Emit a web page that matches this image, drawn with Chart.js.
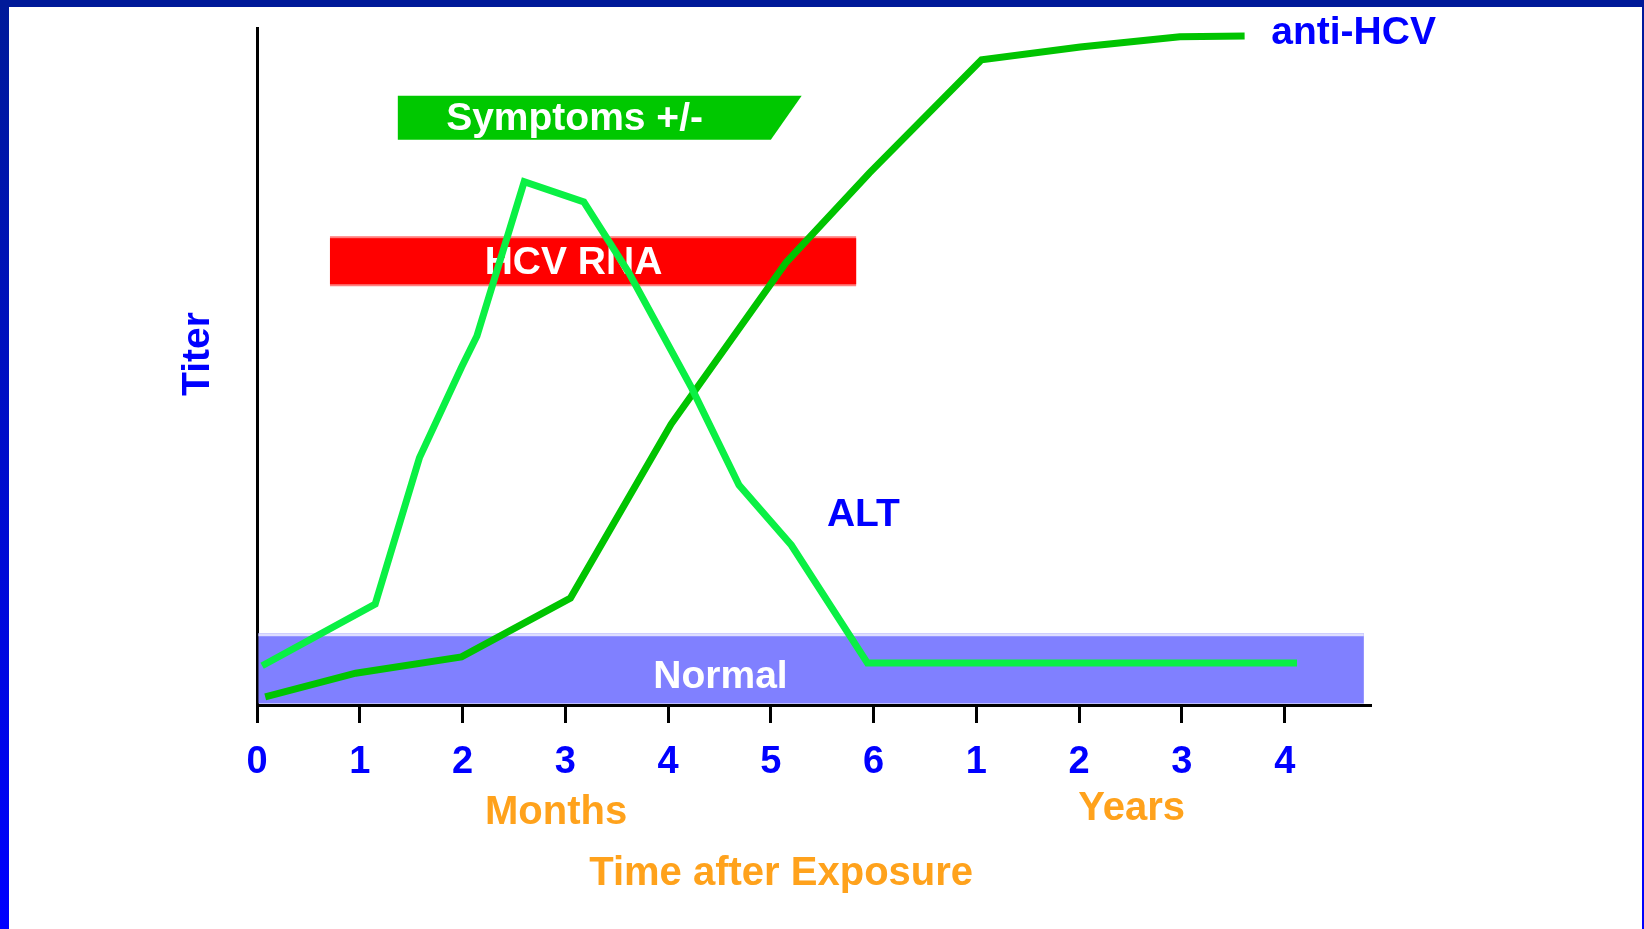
<!DOCTYPE html>
<html>
<head>
<meta charset="utf-8">
<title>HCV infection course</title>
<script src="https://cdn.jsdelivr.net/npm/chart.js@4.4.1/dist/chart.umd.min.js"></script>
<style>
  html, body { margin: 0; padding: 0; background: #fff; overflow: hidden; }
  #c { display: block; }
</style>
</head>
<body>
<canvas id="c" width="1644" height="929"></canvas>
<script>
// Time axis: months 0–6, then years 1–4 (one tick step each)
const tickValues = [0, 1, 2, 3, 4, 5, 6, 7, 8, 9, 10];
const tickLabels = ['0', '1', '2', '3', '4', '5', '6', '1', '2', '3', '4'];

// ALT curve (time step, relative titer)
const altTime  = [0.05, 1.15, 1.58, 1.99, 2.14, 2.60, 3.18, 3.62, 4.23, 4.69, 5.20, 5.94, 10.12];
const altTiter = [5.8, 14.9, 36.5, 49.9, 54.5, 77.3, 74.3, 63.8, 46.8, 32.5, 23.6, 6.2, 6.2];

// anti-HCV curve
const antiTime  = [0.08, 0.96, 1.99, 3.05, 4.03, 5.15, 5.96, 7.05, 8.01, 8.98, 9.61];
const antiTiter = [1.2, 4.7, 7.1, 15.8, 41.5, 65.4, 78.6, 95.3, 97.2, 98.7, 98.8];

// Periods shown as bands: [start, end] in time steps, [low, high] in titer
const symptomsSpan = [1.37, 5.30];
const symptomsSpanLowEdge = 5.00;
const symptomsLevel = [83.5, 90.0];
const rnaSpan = [0.71, 5.83];
const rnaLevel = [62.0, 69.1];
const normalSpan = [0, 10.77];
const normalLevel = [0, 10.6];

const FONT = "'Liberation Sans', Arial, Helvetica, sans-serif";
const BLUE = '#0000ff';
const ORANGE = '#ffa21c';
const SIZE = 39;

function pts(xs, ys) { return xs.map((x, i) => ({ x: x, y: ys[i] })); }

// page frame: navy top bar, blue side bars
const framePlugin = {
  id: 'frame',
  beforeDraw(chart) {
    const ctx = chart.ctx, W = chart.width, H = chart.height;
    ctx.save();
    ctx.fillStyle = '#ffffff';
    ctx.fillRect(0, 0, W, H);
    const g = ctx.createLinearGradient(0, 0, 0, H);
    g.addColorStop(0, '#001a99');
    g.addColorStop(1, '#0000ff');
    ctx.fillStyle = g;
    ctx.fillRect(0, 0, 9, H);
    ctx.fillRect(W - 2, 0, 2, H);
    ctx.fillStyle = '#001a99';
    ctx.fillRect(0, 0, W, 7);
    ctx.restore();
  }
};

function label(ctx, text, x, y, color, size) {
  ctx.font = 'bold ' + size + 'px ' + FONT;
  ctx.fillStyle = color;
  ctx.textAlign = 'center';
  ctx.textBaseline = 'middle';
  ctx.fillText(text, x, y + 3);
}

// bands for Normal range, HCV RNA and symptoms, drawn beneath the curves
const bandsPlugin = {
  id: 'bands',
  beforeDatasetsDraw(chart) {
    const ctx = chart.ctx, xs = chart.scales.x, ys = chart.scales.y, a = chart.chartArea;
    ctx.save();
    // Normal range
    const nx0 = Math.max(xs.getPixelForValue(normalSpan[0]), a.left + 1.5);
    const nx1 = xs.getPixelForValue(normalSpan[1]);
    const ny0 = ys.getPixelForValue(normalLevel[1]);
    const ny1 = Math.min(ys.getPixelForValue(normalLevel[0]), a.bottom - 1.5);
    ctx.fillStyle = '#8080ff';
    ctx.fillRect(nx0, ny0, nx1 - nx0, ny1 - ny0);
    ctx.fillStyle = '#dedeff';
    ctx.fillRect(nx0, ny0, nx1 - nx0, 3);
    label(ctx, 'Normal', xs.getPixelForValue(4.51), ys.getPixelForValue(4.6), '#ffffff', SIZE);

    // HCV RNA
    const rx0 = xs.getPixelForValue(rnaSpan[0]);
    const rx1 = xs.getPixelForValue(rnaSpan[1]);
    const ry0 = ys.getPixelForValue(rnaLevel[1]);
    const ry1 = ys.getPixelForValue(rnaLevel[0]);
    ctx.fillStyle = '#ff8080';
    ctx.fillRect(rx0, ry0 - 1, rx1 - rx0, ry1 - ry0 + 2);
    ctx.fillStyle = '#ff0000';
    ctx.fillRect(rx0, ry0 + 1, rx1 - rx0, ry1 - ry0 - 2);
    label(ctx, 'HCV RNA', xs.getPixelForValue(3.08), ys.getPixelForValue(65.7), '#ffffff', SIZE);

    // Symptoms (slanted right end)
    const sx0 = xs.getPixelForValue(symptomsSpan[0]);
    const sx1 = xs.getPixelForValue(symptomsSpan[1]);
    const sx2 = xs.getPixelForValue(symptomsSpanLowEdge);
    const sy0 = ys.getPixelForValue(symptomsLevel[1]);
    const sy1 = ys.getPixelForValue(symptomsLevel[0]);
    ctx.fillStyle = '#00c800';
    ctx.beginPath();
    ctx.moveTo(sx0, sy0);
    ctx.lineTo(sx1, sy0);
    ctx.lineTo(sx2, sy1);
    ctx.lineTo(sx0, sy1);
    ctx.closePath();
    ctx.fill();
    label(ctx, 'Symptoms +/-', xs.getPixelForValue(3.09), ys.getPixelForValue(87.0), '#ffffff', SIZE);
    ctx.restore();
  }
};

// curve names and axis titles
const textPlugin = {
  id: 'texts',
  afterDraw(chart) {
    const ctx = chart.ctx, xs = chart.scales.x, ys = chart.scales.y, a = chart.chartArea;
    ctx.save();
    label(ctx, 'anti-HCV', xs.getPixelForValue(10.67), ys.getPixelForValue(99.7), BLUE, SIZE);
    label(ctx, 'ALT', xs.getPixelForValue(5.90), ys.getPixelForValue(28.4), BLUE, SIZE);
    label(ctx, 'Months', xs.getPixelForValue(2.91), a.bottom + 105, ORANGE, 40);
    label(ctx, 'Years', xs.getPixelForValue(8.51), a.bottom + 101, ORANGE, 40);
    label(ctx, 'Time after Exposure', xs.getPixelForValue(5.10), a.bottom + 166, ORANGE, 40);
    ctx.translate(a.left - 59, 354);
    ctx.rotate(-Math.PI / 2);
    label(ctx, 'Titer', 0, -3, BLUE, SIZE);
    ctx.restore();
  }
};

new Chart(document.getElementById('c'), {
  type: 'line',
  data: {
    datasets: [
      {
        label: 'ALT',
        data: pts(altTime, altTiter),
        borderColor: '#0af044',
        borderWidth: 7,
        pointRadius: 0,
        tension: 0,
        borderJoinStyle: 'miter',
        fill: false
      },
      {
        label: 'anti-HCV',
        data: pts(antiTime, antiTiter),
        borderColor: '#00c400',
        borderWidth: 7,
        pointRadius: 0,
        tension: 0,
        borderJoinStyle: 'miter',
        fill: false
      }
    ]
  },
  options: {
    responsive: false,
    animation: false,
    layout: { padding: { left: 257, top: 28, right: 274, bottom: 0 } },
    plugins: { legend: { display: false }, tooltip: { enabled: false } },
    scales: {
      x: {
        type: 'linear',
        min: 0,
        max: 10.83,
        afterBuildTicks(scale) { scale.ticks = tickValues.map(v => ({ value: v })); },
        afterFit(scale) { scale.height = 224; },
        ticks: {
          autoSkip: false,
          maxRotation: 0,
          padding: 17,
          color: BLUE,
          font: { family: FONT, size: 38, weight: 'bold' },
          callback(value) { return tickLabels[tickValues.indexOf(value)]; }
        },
        grid: {
          display: true,
          drawOnChartArea: false,
          drawTicks: true,
          tickLength: 18,
          tickWidth: 3,
          tickColor: '#000',
          lineWidth: 3,
          color: '#000'
        },
        border: { display: true, color: '#000', width: 3 }
      },
      y: {
        type: 'linear',
        min: 0,
        max: 100,
        afterFit(scale) { scale.width = 0; },
        ticks: { display: false },
        grid: { display: false, drawTicks: false },
        border: { display: true, color: '#000', width: 3 }
      }
    }
  },
  plugins: [framePlugin, bandsPlugin, textPlugin]
});
</script>
</body>
</html>
